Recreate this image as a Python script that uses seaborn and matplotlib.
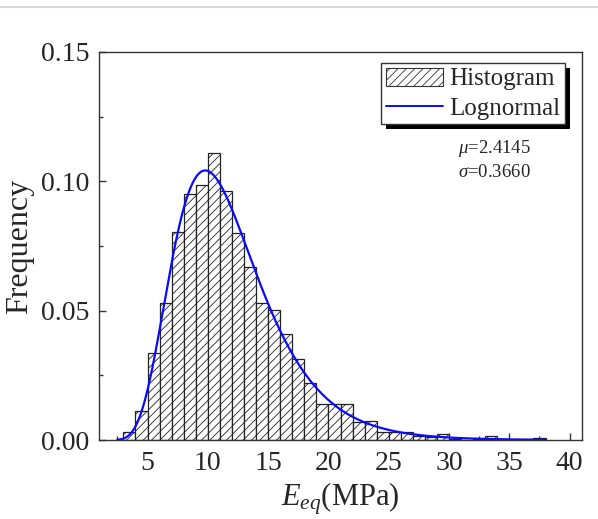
import numpy as np
import pandas as pd
import matplotlib
matplotlib.use("Agg")
import matplotlib.pyplot as plt
import matplotlib.patheffects as pe
from matplotlib.lines import Line2D
from matplotlib.ticker import MultipleLocator
import seaborn as sns

# ---- data ----
bin_left = [3, 4, 5, 6, 7, 8, 9, 10, 11, 12, 13, 14, 15, 16, 17, 18, 19, 20,
            21, 22, 23, 24, 25, 26, 27, 28, 29, 30, 31, 32, 33, 34, 35, 36, 37]
frequency = [0.0030, 0.0112, 0.0337, 0.0528, 0.0805, 0.0951, 0.0985, 0.1109,
             0.0964, 0.0799, 0.0670, 0.0528, 0.0504, 0.0408, 0.0312, 0.0222,
             0.0138, 0.0138, 0.0138, 0.0068, 0.0075, 0.0029, 0.0029, 0.0032,
             0.0017, 0.0011, 0.0022, 0.0005, 0.0000, 0.0004, 0.0014, 0.0004,
             0.0000, 0.0000, 0.0006]
ln_mu = 2.4145
ln_sigma = 0.3660
curve_range = [2.5, 38.0]
x_ticks = [5, 10, 15, 20, 25, 30, 35, 40]
y_ticks = [0.00, 0.05, 0.10, 0.15]

sns.set_style("ticks")
plt.rcParams["font.family"] = ["Liberation Serif", "DejaVu Serif"]
plt.rcParams["mathtext.fontset"] = "custom"
plt.rcParams["mathtext.rm"] = "Liberation Serif"
plt.rcParams["mathtext.it"] = "Liberation Serif:italic"
plt.rcParams["hatch.linewidth"] = 0.6

fig = plt.figure(figsize=(5.98, 5.19), dpi=100)
ax = fig.add_axes([99.3 / 598, 1 - 440 / 519, (581.7 - 99.3) / 598, (440 - 52) / 519])

df = pd.DataFrame({"x": np.array(bin_left) + 0.5, "w": frequency})
edges = list(bin_left) + [bin_left[-1] + 1]
sns.histplot(data=df, x="x", weights="w", bins=edges, stat="count",
             color="white", edgecolor="#222222", linewidth=0.9, alpha=1,
             ax=ax)
for p in ax.patches:
    p.set_hatch("////")

xs = np.linspace(curve_range[0], curve_range[1], 600)
pdf = 1 / (xs * ln_sigma * np.sqrt(2 * np.pi)) * np.exp(-(np.log(xs) - ln_mu) ** 2 / (2 * ln_sigma ** 2))
sns.lineplot(x=xs, y=pdf, color="#0a0aff", linewidth=1.6, ax=ax)

ax.set_xlim(1, 41)
ax.set_ylim(0, 0.15)
ax.set_xticks(x_ticks)
ax.set_yticks(y_ticks)
ax.set_yticklabels([f"{v:.2f}" for v in y_ticks])
ax.xaxis.set_minor_locator(MultipleLocator(2.5))
ax.yaxis.set_minor_locator(MultipleLocator(0.025))
ax.tick_params(which="both", direction="in", top=False, right=False,
               width=1, color="#333333", labelsize=20)
ax.tick_params(axis="x", which="both", pad=8)
ax.tick_params(axis="y", which="both", pad=7)
ax.tick_params(which="major", length=5)
ax.tick_params(which="minor", length=3)
for s in ax.spines.values():
    s.set_visible(True)
    s.set_color("#333333")
    s.set_linewidth(1.0)

ax.set_xlabel(r"$E_{eq}$(MPa)", fontsize=22, labelpad=3)
ax.set_ylabel("Frequency", fontsize=23, labelpad=5)

hist_handle = plt.Rectangle((0, 0), 1, 1, facecolor="white", edgecolor="#333333",
                            hatch="////", linewidth=0.8)
line_handle = Line2D([], [], color="#0a0aff", linewidth=1.4)
leg = ax.legend([hist_handle, line_handle], ["Histogram", "Lognormal"],
                loc="upper right", bbox_to_anchor=(0.9654, 0.9716),
                borderaxespad=0, fontsize=18, frameon=True, fancybox=False,
                handlelength=2.3, handleheight=0.75, handletextpad=0.25,
                borderpad=0.18, labelspacing=0.25)
fr = leg.get_frame()
fr.set_edgecolor("#333333")
fr.set_linewidth(1.0)
fr.set_alpha(1)
fr.set_path_effects([pe.SimplePatchShadow(offset=(3.4, -3.4), shadow_rgbFace="black", alpha=1.0),
                     pe.Normal()])

ax.text(30.75, 0.1125, r"$\mu$=2.4145", fontsize=13.5, ha="left", va="center")
ax.text(30.75, 0.1035, r"$\sigma$=0.3660", fontsize=13.5, ha="left", va="center")

fig.add_artist(Line2D([0, 1], [1 - 7 / 519] * 2, color="#d9d9d9", linewidth=1.5,
                      transform=fig.transFigure))

fig.savefig("out.png", dpi=100)
